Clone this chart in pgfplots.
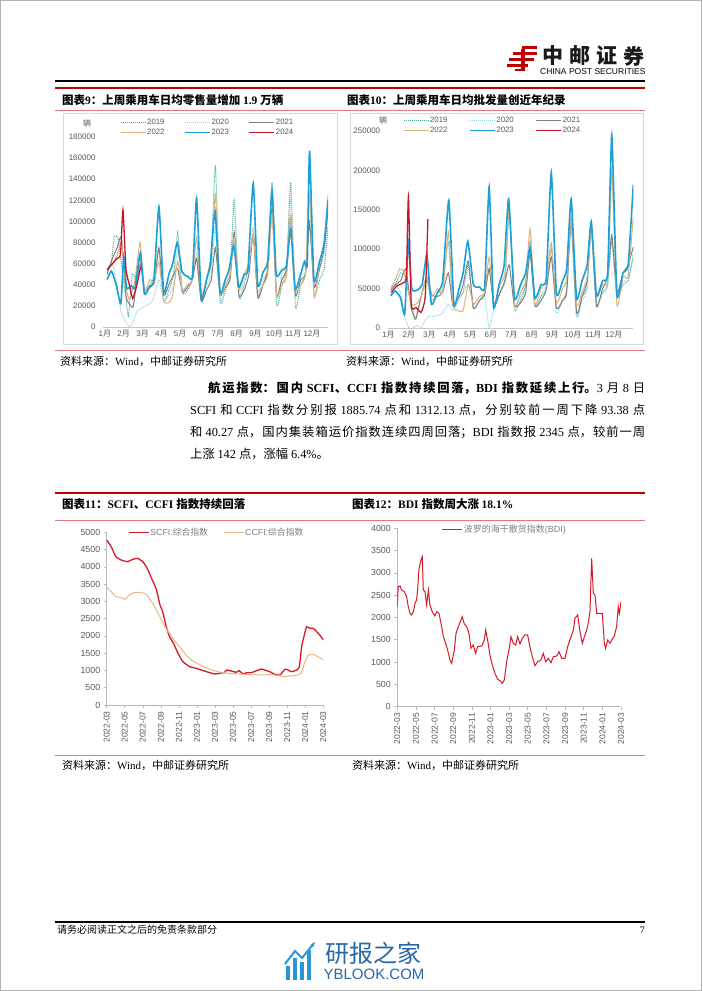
\documentclass[border=0pt]{standalone}
\usepackage{fontspec}
\usepackage{pgfplots}
\pgfplotsset{compat=1.18}
\usetikzlibrary{arrows.meta}
\setmainfont{Liberation Serif}
\setsansfont{Liberation Sans}
\newfontfamily\cjk{Noto Sans CJK SC}
\newcommand\latinfont{\sffamily}
\newcommand\fs[1]{\fontsize{#1}{#1}\selectfont}
\newcommand\serifset{\renewcommand\latinfont{\rmfamily}\rmfamily}
\newXeTeXintercharclass\CJKclass
\newcount\cjkc
\cjkc="3000 \loop\XeTeXcharclass\cjkc=\CJKclass\advance\cjkc 1 \ifnum\cjkc<"3040 \repeat
\cjkc="4E00 \loop\XeTeXcharclass\cjkc=\CJKclass\advance\cjkc 1 \ifnum\cjkc<"A000 \repeat
\cjkc="FF00 \loop\XeTeXcharclass\cjkc=\CJKclass\advance\cjkc 1 \ifnum\cjkc<"FFF0 \repeat
\XeTeXinterchartoks 0 \CJKclass={\cjk}
\XeTeXinterchartoks 4095 \CJKclass={\cjk}
\XeTeXinterchartoks \CJKclass 0={\latinfont}
\XeTeXinterchartoks 4095 0={\latinfont}
\newcommand\justline[1]{\parfillskip=0pt\relax\XeTeXlinebreaklocale "zh"\XeTeXlinebreakskip=0pt plus 3pt\relax #1\par}

\definecolor{c19}{RGB}{70,170,150}
\definecolor{c20}{RGB}{140,210,232}
\definecolor{c21}{RGB}{128,128,128}
\definecolor{c22}{RGB}{226,176,122}
\definecolor{c23}{RGB}{25,160,215}
\definecolor{c24}{RGB}{200,20,40}
\definecolor{zred}{RGB}{215,25,40}
\definecolor{ztan}{RGB}{232,182,132}
\definecolor{hdrred}{RGB}{192,0,0}
\definecolor{pinkline}{RGB}{226,120,120}
\definecolor{tickc}{RGB}{89,89,89}
\definecolor{ybblue}{RGB}{40,105,165}
\definecolor{ybicon}{RGB}{40,150,215}

\pgfplotsset{
 carax/.style={scale only axis, anchor=south west,
  axis x line=bottom, axis y line=left,
  axis line style={-, draw=gray!45, line width=0.6pt},
  y axis line style={draw=none},
  major tick length=0pt,
  tick label style={font=\fs{8}, text=tickc},
  yticklabel style={xshift=-4pt},
  scaled y ticks=false,
  /pgf/number format/fixed, /pgf/number format/precision=0,
  /pgf/number format/1000 sep={}, /pgf/number format/assume math mode=true,
  xtick={1,...,12},
  xticklabels={1月,2月,3月,4月,5月,6月,7月,8月,9月,10月,11月,12月},
  legend columns=3, legend cell align=left,
  legend image code/.code={\draw[line width=1pt,##1] (0pt,0pt) -- (25pt,0pt);},
  legend style={draw=none, fill=none, anchor=north west, inner sep=0pt, font=\fs{7.8}, text=tickc, row sep=1.2pt, nodes={inner sep=1pt}, /tikz/every even column/.append style={column sep=19pt}},
 },
 shipax/.style={scale only axis, anchor=south west,
  axis x line=bottom, axis y line=left,
  axis line style={-, draw=gray!55, line width=0.6pt},
  tick style={draw=gray!55, line width=0.6pt},
  tick align=outside, major tick length=3pt,
  tick label style={font=\fs{8.8}, text=tickc},
  xticklabel style={rotate=90, anchor=east, font=\fs{8.5}},
  scaled y ticks=false,
  /pgf/number format/fixed, /pgf/number format/precision=0,
  /pgf/number format/1000 sep={}, /pgf/number format/assume math mode=true,
  xmin=0, xmax=24, ymin=0, xtick={0,2,...,24},
  xticklabels={2022-03,2022-05,2022-07,2022-09,2022-11,2023-01,2023-03,2023-05,2023-07,2023-09,2023-11,2024-01,2024-03},
  legend columns=2, legend cell align=left,
  legend image code/.code={\draw[line width=1.2pt,##1] (0pt,0pt) -- (20pt,0pt);},
  legend style={draw=none, fill=none, anchor=north west, inner sep=0pt, font=\fs{8.8}, text=gray, nodes={inner sep=1pt}, /tikz/every even column/.append style={column sep=14pt}},
 },
 s19/.style={c19, line width=1pt, dash pattern=on 1pt off 1pt, smooth, tension=0.3},
 s20/.style={c20, line width=1pt, dash pattern=on 1pt off 1pt, smooth, tension=0.3},
 s21/.style={c21, line width=1pt, smooth, tension=0.3},
 s22/.style={c22, line width=1pt, smooth, tension=0.3},
 s23/.style={c23, line width=1.6pt, smooth, tension=0.3},
 s24/.style={c24, line width=1.3pt, smooth, tension=0.3},
}

\begin{document}
\XeTeXinterchartokenstate=1
\begin{tikzpicture}[x=1pt,y=1pt]
\useasboundingbox (0,0) rectangle (702,991);
\fill[white] (0,0) rectangle (702,991);
\draw[gray!60, line width=1pt] (0.5,0.5) rectangle (701.5,990.5);

% ---------- header ----------
\fill[hdrred] (522,945) rectangle (537,942.3);
\fill[hdrred] (513,939) rectangle (537,936.3);
\fill[hdrred] (509,933) rectangle (534,930.3);
\fill[hdrred] (507,927) rectangle (528,924.3);
\fill[hdrred] (521,942.3) rectangle (525,922);
\fill[hdrred] (525,922) -- (525,920) -- (515,920) -- (515,922) -- cycle;
\foreach \c/\x in {中/553,邮/580,证/607,券/634}
  \node[font=\bfseries\fs{21}, text=black!90, inner sep=0] at (\x,935) {\c};
\node[anchor=base west, inner sep=0, font=\fs{8.5}] at (540,916) {CHINA POST SECURITIES};
\draw[black, line width=1.2pt] (55,910) -- (645,910);
\draw[hdrred, line width=1.4pt] (55,903) -- (645,903);

% ---------- titles row 1 ----------
\node[anchor=base west, inner sep=0, font=\serifset\bfseries\fs{11.5}] at (62,886) {图表9：上周乘用车日均零售量增加 1.9 万辆};
\node[anchor=base west, inner sep=0, font=\serifset\bfseries\fs{11.5}] at (347,886) {图表10：上周乘用车日均批发量创近年纪录};
\draw[pinkline, line width=0.5pt] (55,881) -- (645,881);
\draw[gray!30, line width=0.6pt] (63,878) rectangle (337,647);
\draw[gray!30, line width=0.6pt] (350,878) rectangle (643,647);
\node[font=\fs{8}, text=tickc] at (87,868) {辆};
\node[font=\fs{8}, text=tickc] at (383,871) {辆};

% ---------- chart 9 ----------
\begin{axis}[carax, at={(103pt,664pt)}, width=225pt, height=190pt,
  xmin=0.9, xmax=12.85, ymin=0, ymax=180000, ytick={0,20000,...,180000},
  legend style={at={(0.0756,1.1)}}]
\addplot[s19] coordinates {(1.12,55000)(1.35,62000)(1.5,86000)(1.7,84000)(1.88,60000)(2.1,30000)(2.25,10000)(2.45,50000)(2.65,45000)(2.88,65000)(3.12,35000)(3.4,40000)(3.65,50000)(3.87,75000)(4.12,25000)(4.4,35000)(4.65,50000)(4.87,90000)(5.12,33000)(5.4,35000)(5.65,45000)(5.87,65000)(6.12,25000)(6.4,45000)(6.65,70000)(6.87,153000)(7.12,25000)(7.4,35000)(7.65,50000)(7.87,120000)(8.12,28000)(8.4,40000)(8.65,60000)(8.88,85000)(9.12,30000)(9.4,40000)(9.65,55000)(9.88,137000)(10.12,22000)(10.4,40000)(10.65,55000)(10.87,137000)(11.12,19000)(11.4,40000)(11.65,50000)(11.87,100000)(12.12,30000)(12.4,45000)(12.65,55000)(12.85,95000)};
\addplot[s20] coordinates {(1.12,50000)(1.4,60000)(1.65,40000)(1.85,15000)(2.1,5000)(2.3,0)(2.5,5000)(2.7,15000)(2.9,17000)(3.12,20000)(3.4,22000)(3.6,28000)(3.87,45000)(4.12,25000)(4.4,30000)(4.65,40000)(4.87,75000)(5.12,35000)(5.4,40000)(5.65,45000)(5.87,70000)(6.12,30000)(6.4,40000)(6.65,50000)(6.87,95000)(7.12,25000)(7.4,40000)(7.65,55000)(7.87,85000)(8.12,28000)(8.4,45000)(8.65,55000)(8.88,95000)(9.12,30000)(9.4,45000)(9.65,55000)(9.88,135000)(10.12,28000)(10.4,50000)(10.65,60000)(10.87,120000)(11.12,35000)(11.4,50000)(11.65,55000)(11.87,157000)(12.12,40000)(12.4,55000)(12.65,70000)(12.85,110000)};
\addplot[s21] coordinates {(1.12,50000)(1.4,65000)(1.65,75000)(1.88,85000)(2.12,30000)(2.3,22000)(2.5,19000)(2.7,45000)(2.9,60000)(3.12,32000)(3.4,38000)(3.65,45000)(3.87,75000)(4.12,30000)(4.4,40000)(4.65,50000)(4.87,55000)(5.12,33000)(5.4,38000)(5.65,45000)(5.87,65000)(6.12,24000)(6.4,35000)(6.65,45000)(6.87,75000)(7.12,30000)(7.4,38000)(7.65,45000)(7.87,90000)(8.12,30000)(8.4,35000)(8.65,50000)(8.88,88000)(9.12,28000)(9.4,40000)(9.65,55000)(9.88,112000)(10.12,30000)(10.4,45000)(10.65,55000)(10.87,105000)(11.12,30000)(11.4,45000)(11.65,50000)(11.87,98000)(12.12,38000)(12.4,55000)(12.65,75000)(12.85,110000)};
\addplot[s22] coordinates {(1.12,55000)(1.4,60000)(1.65,68000)(1.88,80000)(2.1,40000)(2.3,26000)(2.6,45000)(2.87,80000)(3.1,35000)(3.4,45000)(3.6,40000)(3.87,62000)(4.12,25000)(4.4,23000)(4.6,30000)(4.87,62000)(5.1,35000)(5.4,40000)(5.65,45000)(5.87,85000)(6.12,30000)(6.4,45000)(6.65,60000)(6.87,126000)(7.12,32000)(7.4,40000)(7.65,50000)(7.87,85000)(8.12,35000)(8.4,50000)(8.65,60000)(8.88,88000)(9.12,35000)(9.4,40000)(9.65,50000)(9.88,108000)(10.12,30000)(10.4,40000)(10.65,48000)(10.87,105000)(11.12,35000)(11.4,40000)(11.65,50000)(11.87,125000)(12.12,28000)(12.4,60000)(12.65,80000)(12.85,125000)};
\addplot[s23] coordinates {(1.12,45000)(1.35,53000)(1.6,40000)(1.85,22000)(2.0,67000)(2.15,37000)(2.4,39000)(2.6,37000)(2.88,70000)(3.1,31000)(3.35,38000)(3.6,44000)(3.87,114000)(4.12,33000)(4.4,50000)(4.6,60000)(4.85,80000)(5.1,52000)(5.4,48000)(5.65,48000)(5.87,122000)(6.12,27000)(6.4,45000)(6.6,60000)(6.85,110000)(7.12,33000)(7.4,45000)(7.6,55000)(7.85,77000)(8.1,38000)(8.4,50000)(8.6,55000)(8.88,136000)(9.12,40000)(9.4,52000)(9.65,62000)(9.88,129000)(10.1,50000)(10.4,54000)(10.65,58000)(10.87,93000)(11.1,36000)(11.4,50000)(11.6,62000)(11.75,60000)(11.87,167000)(12.1,45000)(12.4,62000)(12.65,80000)(12.85,120000)};
\addplot[s24] coordinates {(1.12,54000)(1.4,60000)(1.65,65000)(1.83,69000)(1.96,111000)(2.12,55000)(2.3,40000)(2.48,27000)(2.7,40000)(2.9,57000)};
\legend{2019,2020,2021,2022,2023,2024}
\end{axis}

% ---------- chart 10 ----------
\begin{axis}[carax, at={(387.7pt,663pt)}, width=245.6pt, height=197pt,
  xmin=0.97, xmax=12.95, ymin=0, ymax=250000, ytick={0,50000,...,250000},
  legend style={at={(0.062,1.079)}, /tikz/every even column/.append style={column sep=21pt}}]
\addplot[s19] coordinates {(1.12,52000)(1.35,55000)(1.6,70000)(1.85,65000)(2.1,35000)(2.3,10000)(2.6,40000)(2.88,60000)(3.12,35000)(3.4,45000)(3.65,50000)(3.93,110000)(4.15,30000)(4.45,40000)(4.65,45000)(4.9,80000)(5.15,25000)(5.45,35000)(5.7,45000)(5.92,75000)(6.15,30000)(6.45,45000)(6.7,65000)(6.9,150000)(7.15,25000)(7.45,35000)(7.7,55000)(7.92,110000)(8.15,28000)(8.45,40000)(8.7,50000)(8.95,100000)(9.2,25000)(9.5,35000)(9.7,50000)(9.92,130000)(10.18,15000)(10.45,40000)(10.7,52000)(10.9,130000)(11.15,28000)(11.45,45000)(11.7,55000)(11.9,110000)(12.15,40000)(12.45,55000)(12.7,60000)(12.95,90000)};
\addplot[s20] coordinates {(1.12,45000)(1.35,55000)(1.6,45000)(1.8,15000)(2.0,0)(2.2,0)(2.4,3000)(2.6,0)(2.8,10000)(3.0,15000)(3.3,15000)(3.6,18000)(3.93,30000)(4.15,22000)(4.45,35000)(4.65,45000)(4.9,55000)(5.15,30000)(5.45,40000)(5.7,40000)(5.92,0)(6.15,25000)(6.45,45000)(6.7,60000)(6.9,150000)(7.15,30000)(7.45,40000)(7.7,55000)(7.92,110000)(8.15,28000)(8.45,40000)(8.7,55000)(8.95,105000)(9.2,20000)(9.5,35000)(9.7,45000)(9.92,135000)(10.18,15000)(10.45,35000)(10.7,50000)(10.9,128000)(11.15,30000)(11.45,45000)(11.7,55000)(11.9,195000)(12.15,50000)(12.45,60000)(12.7,60000)(12.95,95000)};
\addplot[s21] coordinates {(1.12,48000)(1.35,55000)(1.6,60000)(1.85,75000)(2.12,25000)(2.35,12000)(2.6,40000)(2.88,65000)(3.12,42000)(3.4,40000)(3.65,45000)(3.93,70000)(4.15,28000)(4.45,40000)(4.65,55000)(4.9,85000)(5.15,25000)(5.45,35000)(5.7,42000)(5.92,75000)(6.15,28000)(6.45,45000)(6.7,60000)(6.9,80000)(7.15,28000)(7.45,32000)(7.7,45000)(7.92,95000)(8.15,28000)(8.45,35000)(8.7,48000)(8.95,90000)(9.2,25000)(9.5,35000)(9.7,45000)(9.92,140000)(10.18,20000)(10.45,40000)(10.7,60000)(10.9,130000)(11.15,28000)(11.45,50000)(11.7,65000)(11.9,118000)(12.15,45000)(12.45,70000)(12.7,80000)(12.95,103000)};
\addplot[s22] coordinates {(1.12,50000)(1.35,62000)(1.55,75000)(1.75,72000)(1.9,55000)(2.12,30000)(2.35,30000)(2.6,40000)(2.88,65000)(3.12,40000)(3.4,50000)(3.65,45000)(3.93,122000)(4.15,30000)(4.4,22000)(4.65,22000)(4.9,55000)(5.15,30000)(5.45,40000)(5.7,45000)(5.92,90000)(6.15,30000)(6.45,55000)(6.7,70000)(6.9,155000)(7.15,30000)(7.45,45000)(7.7,60000)(7.92,126000)(8.15,30000)(8.45,50000)(8.7,60000)(8.95,108000)(9.2,32000)(9.5,50000)(9.7,62000)(9.92,140000)(10.18,30000)(10.45,45000)(10.7,65000)(10.9,125000)(11.15,40000)(11.45,55000)(11.7,60000)(11.9,200000)(12.15,30000)(12.45,65000)(12.7,65000)(12.95,142000)};
\addplot[s23] coordinates {(1.12,41000)(1.35,47000)(1.6,38000)(1.8,18000)(1.98,110000)(2.14,50000)(2.4,48000)(2.65,55000)(2.88,93000)(3.1,30000)(3.4,45000)(3.65,60000)(3.95,162000)(4.2,30000)(4.45,50000)(4.65,70000)(4.88,110000)(5.15,55000)(5.45,52000)(5.7,52000)(5.92,179000)(6.13,27000)(6.4,55000)(6.65,80000)(6.87,164000)(7.15,38000)(7.45,55000)(7.7,70000)(7.92,102000)(8.15,38000)(8.45,55000)(8.7,62000)(8.95,197000)(9.2,44000)(9.5,60000)(9.7,75000)(9.92,164000)(10.18,38000)(10.45,60000)(10.7,80000)(10.9,135000)(11.15,42000)(11.45,60000)(11.7,70000)(11.9,244000)(12.15,42000)(12.45,70000)(12.7,80000)(12.95,182000)};
\addplot[s24] coordinates {(1.15,45000)(1.4,53000)(1.7,57000)(1.88,65000)(1.98,167000)(2.12,30000)(2.35,26000)(2.6,20000)(2.8,40000)(2.93,138000)};
\legend{2019,2020,2021,2022,2023,2024}
\end{axis}

% ---------- sources + paragraph ----------
\draw[pinkline, line width=0.5pt] (55,641) -- (645,641);
\node[anchor=base west, inner sep=0, font=\serifset\fs{11}] at (60,625) {资料来源：Wind，中邮证券研究所};
\node[anchor=base west, inner sep=0, font=\serifset\fs{11}] at (346,625) {资料来源：Wind，中邮证券研究所};

\node[anchor=base west, inner sep=0, text width=437pt, align=justify, font=\serifset\fs{12.3}] at (208,598.5)
  {\justline{\textbf{航运指数：国内 SCFI、CCFI 指数持续回落，BDI 指数延续上行。}3 月 8 日}};
\node[anchor=base west, inner sep=0, text width=455pt, align=justify, font=\serifset\fs{12.3}] at (190,576.5)
  {\justline{SCFI 和 CCFI 指数分别报 1885.74 点和 1312.13 点，分别较前一周下降 93.38 点}};
\node[anchor=base west, inner sep=0, text width=455pt, align=justify, font=\serifset\fs{12.3}] at (190,554.5)
  {\justline{和 40.27 点，国内集装箱运价指数连续四周回落；BDI 指数报 2345 点，较前一周}};
\node[anchor=base west, inner sep=0, font=\serifset\fs{12.3}] at (190,532.5) {上涨 142 点，涨幅 6.4\%。};

% ---------- titles row 2 ----------
\draw[hdrred, line width=1.4pt] (55,498) -- (645,498);
\node[anchor=base west, inner sep=0, font=\serifset\bfseries\fs{11.5}] at (62,482) {图表11：SCFI、CCFI 指数持续回落};
\node[anchor=base west, inner sep=0, font=\serifset\bfseries\fs{11.5}] at (352,482) {图表12：BDI 指数周大涨 18.1\%};
\draw[pinkline, line width=0.5pt] (55,471) -- (645,471);

% ---------- chart 11 ----------
\begin{axis}[shipax, at={(106.7pt,286pt)}, width=216.6pt, height=172.7pt,
  ymax=5000, ytick={0,500,...,5000}, legend style={at={(0.098,1.03)}}]
\addplot[zred, line width=1.3pt, smooth, tension=0.3] coordinates {(0,4777)(0.5,4584)(1.0,4300)(1.6,4198)(2.3,4150)(2.9,4217)(3.4,4246)(4.0,4150)(4.5,3950)(5.0,3650)(5.5,3350)(5.9,2900)(6.2,2700)(6.6,2268)(6.96,1978)(7.4,1785)(7.9,1500)(8.44,1255)(9.2,1110)(9.93,1060)(11.04,965)(11.96,898)(12.5,917)(13.07,946)(13.3,1013)(13.8,985)(14.35,946)(14.7,994)(15.1,897)(15.5,936)(16.04,936)(16.6,994)(17.15,1042)(17.7,994)(18.07,965)(18.63,888)(19.2,868)(19.74,1033)(20.1,1013)(20.5,965)(21.05,1013)(21.35,1110)(21.6,1690)(21.85,1978)(22.15,2268)(22.5,2220)(22.9,2220)(23.26,2123)(23.6,2027)(24.0,1886)};
\addplot[ztan, line width=1pt, smooth, tension=0.3] coordinates {(0,3406)(0.5,3281)(1.0,3136)(1.5,3117)(2.05,3059)(2.5,3184)(3.0,3250)(3.6,3262)(4.2,3233)(4.7,3100)(5.3,2850)(5.8,2600)(6.4,2300)(7.0,2050)(7.6,1830)(8.2,1650)(8.8,1450)(9.4,1300)(10.0,1210)(10.6,1130)(11.2,1060)(11.8,1000)(12.4,960)(13.0,930)(13.8,910)(14.7,900)(15.6,880)(16.5,870)(17.4,870)(18.3,880)(19.0,850)(19.6,820)(20.2,840)(20.8,850)(21.3,880)(21.6,950)(21.9,1200)(22.3,1430)(22.8,1470)(23.4,1400)(24.0,1312)};
\legend{SCFI:综合指数,CCFI:综合指数}
\end{axis}

% ---------- chart 12 ----------
\begin{axis}[shipax, at={(397.3pt,284.3pt)}, width=223.7pt, height=178.4pt,
  ymax=4000, ytick={0,500,...,4000}, legend style={at={(0.198,1.024)}, font=\fs{9}}]
\addplot[zred, line width=1pt] coordinates {(0,2243)(0.1,2692)(0.3,2707)(0.46,2617)(0.75,2580)(1.0,2467)(1.18,2243)(1.36,2094)(1.54,2056)(1.72,2131)(1.9,2318)(2.07,2393)(2.18,2617)(2.32,3080)(2.54,3290)(2.68,3365)(2.79,2617)(2.97,2580)(3.15,2280)(3.33,2617)(3.5,2280)(3.75,2131)(4.04,2034)(4.22,2131)(4.47,2094)(4.76,1795)(4.94,1570)(5.19,1420)(5.4,1271)(5.65,1047)(5.83,972)(6.12,1271)(6.3,1645)(6.55,1795)(6.83,1944)(6.97,2019)(7.19,1854)(7.44,1795)(7.69,1645)(7.9,1309)(8.15,1383)(8.4,1196)(8.62,1346)(9.05,1361)(9.34,1495)(9.48,1720)(9.69,1495)(9.94,1159)(10.19,935)(10.48,748)(10.77,613)(11.02,583)(11.27,523)(11.48,598)(11.73,1009)(11.98,1271)(12.2,1570)(12.45,1420)(12.7,1383)(12.91,1570)(13.16,1406)(13.41,1533)(13.7,1608)(13.98,1608)(14.23,1346)(14.48,1122)(14.77,920)(15.06,1009)(15.41,1047)(15.66,1196)(15.92,1009)(16.2,1084)(16.49,987)(16.74,1122)(17.1,1137)(17.35,1234)(17.63,1084)(17.99,1084)(18.28,1346)(18.64,1570)(18.89,1720)(19.06,1981)(19.35,2056)(19.6,1682)(19.85,1420)(20.14,1608)(20.42,1795)(20.67,2131)(20.85,3327)(21.03,2542)(21.21,2505)(21.39,2094)(21.75,2094)(22.0,2094)(22.21,1420)(22.35,1309)(22.57,1495)(22.82,1420)(23.0,1495)(23.28,1585)(23.53,1795)(23.71,2243)(23.82,2094)(24.0,2345)};
\legend{波罗的海干散货指数(BDI)}
\end{axis}

\draw[pinkline, line width=0.5pt] (55,236) -- (645,236);
\node[anchor=base west, inner sep=0, font=\serifset\fs{11}] at (62,221) {资料来源：Wind，中邮证券研究所};
\node[anchor=base west, inner sep=0, font=\serifset\fs{11}] at (352,221) {资料来源：Wind，中邮证券研究所};

% ---------- footer ----------
\draw[black, line width=1.1pt] (55,69) -- (645,69);
\node[anchor=base west, inner sep=0, font=\serifset\fs{10}] at (57,57) {请务必阅读正文之后的免责条款部分};
\node[anchor=base east, inner sep=0, font=\serifset\fs{10}] at (645,57) {7};

% watermark
\fill[ybicon] (286,11) rectangle (290,25);
\fill[ybicon] (293,11) rectangle (297,33);
\fill[ybicon] (300,11) rectangle (304,29);
\fill[ybicon] (307,11) rectangle (311,41);
\draw[ybicon, line width=2pt, -{Stealth[length=5pt]}] (285,27) -- (295,40) -- (302,33) -- (315,49);
\node[font=\fs{24}, text=ybblue, inner sep=0] at (373,38) {研报之家};
\node[font=\fs{15}, text=ybblue, inner sep=0] at (374,17) {YBLOOK.COM};
\end{tikzpicture}
\end{document}
